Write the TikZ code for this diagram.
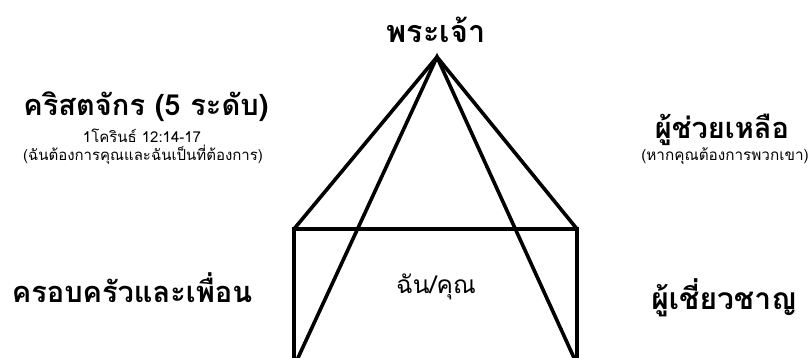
\documentclass[tikz,border=0pt]{standalone}
\usepackage{fontspec}
\setmainfont[Script=Thai]{Loma}
\begin{document}
\begin{tikzpicture}[x=1pt,y=-1pt,
  edge/.style={line width=3.6pt,line join=miter,line cap=round},
  big/.style={font=\bfseries\fontsize{29}{31}\selectfont,inner sep=0pt},
  mid/.style={font=\fontsize{15}{17}\selectfont,inner sep=0pt},
  small/.style={font=\fontsize{15}{17}\selectfont,inner sep=0pt}]
\useasboundingbox[fill=white] (0,0) rectangle (811,358);
\coordinate (apex) at (437,57);
\coordinate (tl) at (294,229);
\coordinate (tr) at (577,229);
\coordinate (bl) at (294,360);
\coordinate (br) at (577,360);
\coordinate (ibl) at (297,360);
\coordinate (ibr) at (575,360);
\draw[edge] (bl) -- (tl) -- (tr) -- (br);
\draw[edge] (tl) -- (apex) -- (tr);
\draw[edge] (ibl) -- (apex) -- (ibr);
\node[big,font=\bfseries\fontsize{30.5}{32}\selectfont] (god) at (436,30) {พระเจ้า};
\node[big] (church) at (146,107) {คริสตจักร (5 ระดับ)};
\node[small] (ref) at (142,136) {1โครินธ์ 12:14-17};
\node[mid] (need) at (143,155) {(ฉันต้องการคุณและฉันเป็นที่ต้องการ)};
\node[big] (help) at (722,130) {ผู้ช่วยเหลือ};
\node[mid,font=\fontsize{15.3}{17}\selectfont] (ifneed) at (725,156) {(หากคุณต้องการพวกเขา)};
\node[big] (family) at (132,288) {ครอบครัวและเพื่อน};
\node[font=\fontsize{24.5}{26}\selectfont,inner sep=0pt] (me) at (436,287) {ฉัน/คุณ};
\node[big,font=\bfseries\fontsize{30}{32}\selectfont] (expert) at (724,298) {ผู้เชี่ยวชาญ};
\end{tikzpicture}
\end{document}
